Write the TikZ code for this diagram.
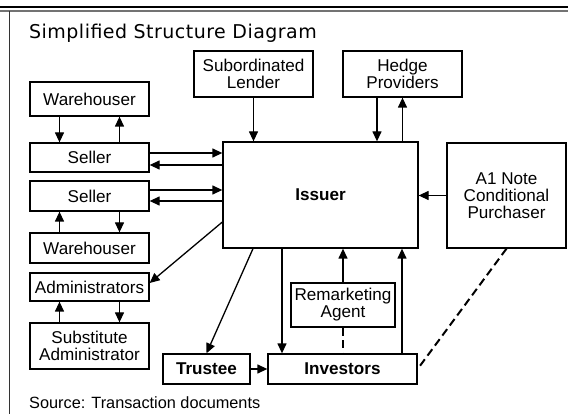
\documentclass[tikz,border=0pt]{standalone}
\usepackage{fontspec}
\setmainfont{Liberation Sans}
\newfontfamily\titlefont[LetterSpace=2.5]{DejaVu Sans}
\usetikzlibrary{arrows.meta}
\begin{document}
\begin{tikzpicture}[x=1pt,y=-1pt,
  box/.style={draw=black, line width=1.3pt, inner sep=0pt, align=center,
    font=\fontsize{17.1}{17}\selectfont},
  arr/.style={line width=1.3pt, -{Triangle[length=10pt,width=9pt]}},
  dsh/.style={line width=2pt, dash pattern=on 8pt off 4.5pt}]
\useasboundingbox (0,0) rectangle (568,414);
\fill[white] (0,0) rectangle (568,414);
% frame
\draw[line width=2.5pt] (0,7.2) -- (568,7.2);
\draw[line width=1.5pt, black!55] (0,10.8) -- (568,10.8);
\draw[line width=1.2pt, black!80] (9.5,11.5) -- (9.5,414);
% texts
\node[anchor=base west, inner sep=0pt, font=\titlefont\fontsize{19}{21}\selectfont] (title) at (29,38.7) {Simplified Structure Diagram};
\node[anchor=base west, inner sep=0pt, font=\fontsize{16.3}{18}\selectfont] (src) at (29,408) {Source: Transaction documents};
% boxes
\node[box, minimum width=119pt, minimum height=34pt] (wh1) at (89.5,99) {Warehouser};
\node[box, minimum width=119pt, minimum height=46pt] (sub) at (253.5,74) {Subordinated\\Lender};
\node[box, minimum width=119pt, minimum height=46pt] (hedge) at (402.5,74) {Hedge\\Providers};
\node[box, minimum width=119pt, minimum height=29pt] (sel1) at (89.5,157.5) {Seller};
\node[box, minimum width=119pt, minimum height=30pt] (sel2) at (89.5,196) {Seller};
\node[box, minimum width=119pt, minimum height=30pt] (wh2) at (89.5,248) {Warehouser};
\node[box, minimum width=119pt, minimum height=28pt] (adm) at (89.5,287) {Administrators};
\node[box, minimum width=119pt, minimum height=46pt] (subadm) at (89.5,346) {Substitute\\Administrator};
\node[box, minimum width=195pt, minimum height=106pt, font=\bfseries\fontsize{17.1}{17}\selectfont] (issuer) at (320.5,195) {Issuer};
\node[box, minimum width=119pt, minimum height=105pt] (a1) at (506.5,195.5) {A1 Note\\Conditional\\Purchaser};
\node[box, minimum width=104pt, minimum height=44pt] (rem) at (343,305) {Remarketing\\Agent};
\node[box, minimum width=87pt, minimum height=30pt, font=\bfseries\fontsize{17.1}{17}\selectfont] (trustee) at (206.5,369) {Trustee};
\node[box, minimum width=149pt, minimum height=30pt, font=\bfseries\fontsize{17.1}{17}\selectfont] (inv) at (342.5,369) {Investors};
% warehouser 1 <-> seller 1
\draw[arr] ([xshift=-30pt]wh1.south) -- ([xshift=-30pt]sel1.north);
\draw[arr] ([xshift=30pt]sel1.north) -- ([xshift=30pt]wh1.south);
% subordinated lender -> issuer
\draw[arr] (sub.south) -- (sub.south |- issuer.north);
% hedge providers
\coordinate (hl) at ([xshift=-25.5pt]hedge.south);
\draw[arr] (hl) -- (hl |- issuer.north);
\draw[arr] (hedge.south |- issuer.north) -- (hedge.south);
% sellers <-> issuer
\coordinate (s1a) at ([yshift=4.5pt]sel1.east);
\coordinate (s1b) at ([yshift=-7.5pt]sel1.east);
\coordinate (s2a) at ([yshift=6pt]sel2.east);
\coordinate (s2b) at ([yshift=-5pt]sel2.east);
\draw[arr] (s1a) -- (s1a -| issuer.west);
\draw[arr] (s1b -| issuer.west) -- (s1b);
\draw[arr] (s2a) -- (s2a -| issuer.west);
\draw[arr] (s2b -| issuer.west) -- (s2b);
% seller 2 <-> warehouser 2
\draw[arr] ([xshift=-30pt]wh2.north) -- ([xshift=-30pt]sel2.south);
\draw[arr] ([xshift=30pt]sel2.south) -- ([xshift=30pt]wh2.north);
% issuer -> administrators
\draw[arr] ([yshift=-27pt]issuer.west) -- ([yshift=4pt]adm.east);
% administrators <-> substitute
\draw[arr] ([xshift=-30pt]subadm.north) -- ([xshift=-30pt]adm.south);
\draw[arr] ([xshift=30pt]adm.south) -- ([xshift=30pt]subadm.north);
% issuer -> trustee
\draw[arr] ([xshift=-67.5pt]issuer.south) -- (trustee.north);
% issuer -> investors
\coordinate (ii) at ([xshift=-38.5pt]issuer.south);
\draw[arr] (ii) -- (ii |- inv.north);
% remarketing -> issuer
\draw[arr] (rem.north) -- (rem.north |- issuer.south);
% investors -> issuer
\coordinate (iv) at ([xshift=59.5pt]inv.north);
\draw[arr] (iv) -- (iv |- issuer.south);
% remarketing -- investors dashed
\draw[dsh] (rem.south) -- (rem.south |- inv.north);
% trustee -> investors
\draw[arr] (trustee.east) -- (inv.west);
% A1 -> issuer
\draw[arr] (a1.west) -- (a1.west -| issuer.east);
% A1 -- investors dashed
\draw[dsh] (a1.south) -- (inv.east);
\end{tikzpicture}
\end{document}
